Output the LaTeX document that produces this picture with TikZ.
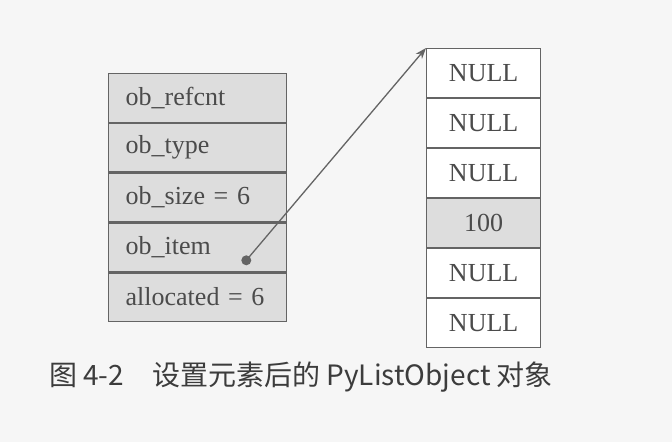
\documentclass[tikz,border=0pt]{standalone}
\usepackage{fontspec}
\setmainfont{Liberation Serif}
\newfontfamily\cjk{Noto Sans CJK SC}
\usetikzlibrary{positioning,arrows.meta}
\definecolor{cellgray}{RGB}{221,221,221}
\definecolor{linegray}{RGB}{100,100,100}
\definecolor{textgray}{RGB}{75,75,75}
\definecolor{paper}{RGB}{246,246,246}

\begin{document}
\begin{tikzpicture}[x=1pt,y=-1pt,
  cell/.style={draw=linegray, line width=1.3pt, inner sep=0pt, text=textgray,
    font=\fontsize{26}{28}\selectfont},
  field/.style={cell, fill=cellgray, minimum height=48.5pt, text width=144pt,
    inner xsep=17pt, align=left},
  slot/.style={cell, fill=white, minimum width=114pt, minimum height=48.7pt},
  full/.style={slot, fill=cellgray}]
  \fill[paper] (0,0) rectangle (672,442);
  \useasboundingbox (0,0) rectangle (672,442);

  % PyListObject fields
  \node[field, anchor=north west] (refcnt) at (108,73) {ob\_refcnt};
  \node[field, below=0pt of refcnt] (type) {ob\_type};
  \node[field, below=0pt of type] (size) {ob\_size = 6};
  \node[field, below=0pt of size] (item) {ob\_item};
  \node[field, below=0pt of item] (alloc) {allocated = 6};

  % item array
  \node[slot, anchor=north west] (n0) at (426,48) {NULL};
  \node[slot, below=0pt of n0] (n1) {NULL};
  \node[slot, below=0pt of n1] (n2) {NULL};
  \node[full, below=0pt of n2] (n3) {100};
  \node[slot, below=0pt of n3] (n4) {NULL};
  \node[slot, below=0pt of n4] (n5) {NULL};

  \node[circle, fill=linegray, inner sep=0pt, minimum size=10pt] (ptr)
    at ([xshift=-41pt, yshift=-13pt]item.east) {};
  \draw[linegray, line width=1.3pt, -{Stealth[length=11pt, width=8pt]}]
    (ptr.center) -- (n0.north west);

  \node[text=textgray!80!black] (caption) at (301,377)
    {\cjk\fontsize{28}{32}\selectfont 图 4-2\quad 设置元素后的 PyListObject 对象};
\end{tikzpicture}
\end{document}
